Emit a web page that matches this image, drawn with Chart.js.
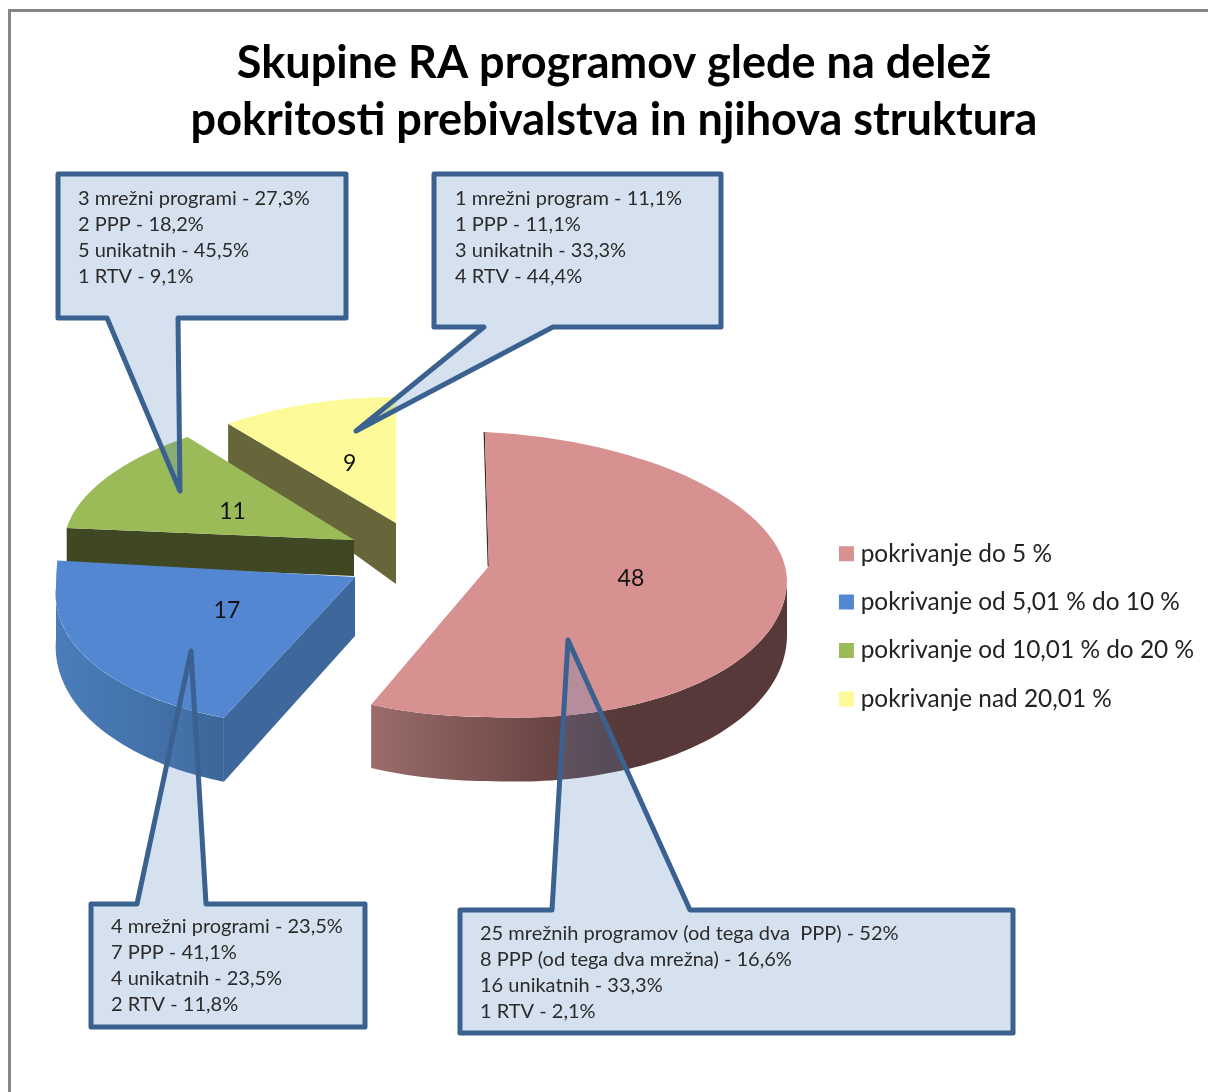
<!DOCTYPE html>
<html><head><meta charset="utf-8">
<style>html,body{margin:0;padding:0;background:#fff}canvas{display:block}</style>
<script src="https://cdn.jsdelivr.net/npm/chart.js@4"></script>
</head><body>
<div style="width:1208px;height:1092px"><canvas id="c" width="1208" height="1092"></canvas></div>
<script>
const titleLines = ['Skupine RA programov glede na delež', 'pokritosti prebivalstva in njihova struktura'];
const categories = ['pokrivanje do 5 %', 'pokrivanje od 5,01 % do 10 %', 'pokrivanje od 10,01 % do 20 %', 'pokrivanje nad 20,01 %'];
const values = [48, 17, 11, 9];
const colors = ['#D79190', '#5387D1', '#9BBB59', '#FDFB99'];
const noteRed = ['25 mrežnih programov (od tega dva  PPP) - 52%', '8 PPP (od tega dva mrežna) - 16,6%', '16 unikatnih - 33,3%', '1 RTV - 2,1%'];
const noteBlue = ['4 mrežni programi - 23,5%', '7 PPP - 41,1%', '4 unikatnih - 23,5%', '2 RTV - 11,8%'];
const noteGreen = ['3 mrežni programi - 27,3%', '2 PPP - 18,2%', '5 unikatnih - 45,5%', '1 RTV - 9,1%'];
const noteYellow = ['1 mrežni program - 11,1%', '1 PPP - 11,1%', '3 unikatnih - 33,3%', '4 RTV - 44,4%'];

/* Exploded, tilted projection of each slice (order of categories) */
const views = [
  {cx:489, cy:566, rx:298, ryB:134, ryF:151, skB:4, skF:0, shL:0, shR:14, dSide:55, dFront:64, dTip:0, wall:null, sliver:'#3b2a2a', lab:[-4,-10],
   rim:[[371,'#9A6C6B'],[540,'#6C4745'],[620,'#573939'],[790,'#573939']]},
  {cx:355, cy:577, rx:299, ryB:287, ryF:149, skB:0, skF:-14, shL:10, shR:0, dSide:52, dFront:65, dTip:59, wall:'#3E689B', sliver:null, lab:[4,-9],
   rim:[[56,'#4A7DBA'],[140,'#4473AC'],[225,'#3C6698']]},
  {cx:354, cy:540, rx:290, ryB:131, ryF:131, skB:-16, skF:0, shL:0, shR:0, dSide:36, dFront:36, dTip:36, wall:'#3F4822', sliver:null, lab:[2,3], rim:null},
  {cx:396, cy:523, rx:272, ryB:126, ryF:126, skB:0, skF:0, shL:0, shR:0, dSide:39, dFront:39, dTip:61, wall:'#66663A', sliver:null, lab:[-2,0], rim:null}
];
const drawOrder = [3, 2, 1, 0];
const callouts = [
  {lines:noteGreen,  box:[58,174,346,318],  tail:[[107,318],[180,491],[178,318]], text:[78,199]},
  {lines:noteYellow, box:[434,174,721,327], tail:[[484,327],[356,431],[553,327]], text:[455,199]},
  {lines:noteBlue,   box:[91,904,365,1027], tail:[[137,904],[191,651],[206,904]], text:[111,927]},
  {lines:noteRed,    box:[460,910,1013,1033],tail:[[552,910],[568,640],[690,910]], text:[480,934]}
];
const FONT = 'Lato, Carlito, sans-serif';
const noteFont = '20px ' + FONT;
const valueFont = '23px ' + FONT;

function project(v, u, w) {          // u,w: slice-space offsets in radius units
  const x = v.cx + v.rx * u + (w < 0 ? v.skB : v.skF) * w;
  const y = v.cy + (w < 0 ? v.ryB : v.ryF) * w + (u < 0 ? -v.shL * u : v.shR * u);
  return [x, y];
}
function pt(v, t) { return project(v, Math.sin(t), -Math.cos(t)); }
function depthAt(v, t) {
  return v.dSide + (v.dFront - v.dSide) * Math.max(0, -Math.cos(t));
}
function drawSlice(ctx, chart, el, v) {
  const R = el.outerRadius;
  const t0 = el.startAngle + Math.PI / 2, t1 = el.endAngle + Math.PI / 2;
  if (v.wall) {
    const c = pt(v, t0), d = depthAt(v, t0);
    ctx.fillStyle = v.wall;
    ctx.beginPath();
    ctx.moveTo(v.cx, v.cy); ctx.lineTo(c[0], c[1]); ctx.lineTo(c[0], c[1] + d); ctx.lineTo(v.cx, v.cy + v.dTip);
    ctx.closePath(); ctx.fill();
  }
  const a = Math.max(t0, Math.PI / 2), b = Math.min(t1, Math.PI * 1.5);
  if (v.rim && b > a) {
    const n = 80, top = [], bot = [];
    for (let i = 0; i <= n; i++) {
      const t = a + (b - a) * i / n, p = pt(v, t);
      top.push(p); bot.push([p[0], p[1] + depthAt(v, t)]);
    }
    const x0 = v.rim[0][0], x1 = v.rim[v.rim.length - 1][0];
    const g = ctx.createLinearGradient(x0, 0, x1, 0);
    v.rim.forEach(s => g.addColorStop((s[0] - x0) / (x1 - x0), s[1]));
    ctx.fillStyle = g;
    ctx.beginPath();
    top.forEach((p, i) => i ? ctx.lineTo(p[0], p[1]) : ctx.moveTo(p[0], p[1]));
    bot.reverse().forEach(p => ctx.lineTo(p[0], p[1]));
    ctx.closePath(); ctx.fill();
  }
  if (v.sliver) {
    const c = pt(v, t0);
    ctx.strokeStyle = v.sliver; ctx.lineWidth = 1.2;
    ctx.beginPath(); ctx.moveTo(v.cx - 0.8, v.cy); ctx.lineTo(c[0] - 0.8, c[1]); ctx.stroke();
  }
  // top face: the library's arc element, drawn quadrant by quadrant through the projection
  const pad = 2, big = R * 1.2;
  [[-1, -1], [1, -1], [1, 1], [-1, 1]].forEach(q => {
    const sx = q[0], sy = q[1];
    const ry = sy < 0 ? v.ryB : v.ryF, sk = sy < 0 ? v.skB : v.skF, sh = sx < 0 ? -v.shL : v.shR;
    const A = v.rx / R, B = sh / R, C = sk / R, D = ry / R;
    ctx.save();
    ctx.transform(A, B, C, D, v.cx - A * el.x - C * el.y, v.cy - B * el.x - D * el.y);
    ctx.beginPath();
    ctx.rect(sx < 0 ? el.x - big : el.x - pad, sy < 0 ? el.y - big : el.y - pad, big + pad, big + pad);
    ctx.clip();
    el.draw(ctx);
    ctx.restore();
  });
}
const pie3d = {
  id: 'pie3d',
  beforeDraw(chart) {
    const ctx = chart.ctx;
    ctx.save();
    ctx.strokeStyle = '#868686'; ctx.lineWidth = 3;
    ctx.beginPath(); ctx.moveTo(9.5, 1092); ctx.lineTo(9.5, 10.5); ctx.lineTo(1208, 10.5); ctx.stroke();
    ctx.restore();
  },
  beforeDatasetDraw(chart, args) {
    const ctx = chart.ctx, meta = args.meta;
    ctx.save();
    drawOrder.forEach(i => drawSlice(ctx, chart, meta.data[i], views[i]));
    ctx.fillStyle = '#111'; ctx.font = valueFont; ctx.textAlign = 'center'; ctx.textBaseline = 'middle';
    values.forEach((val, i) => {
      const el = meta.data[i], c = el.getCenterPoint(), v = views[i], R = el.outerRadius;
      const p = project(v, (c.x - el.x) / R, (c.y - el.y) / R);
      ctx.fillText(String(val), p[0] + v.lab[0], p[1] + v.lab[1]);
    });
    callouts.forEach(k => {
      const [l, t, r, b] = k.box, tail = k.tail;
      ctx.beginPath();
      ctx.moveTo(l, t);
      if (tail[0][1] === t) { tail.forEach(p => ctx.lineTo(p[0], p[1])); }
      ctx.lineTo(r, t); ctx.lineTo(r, b);
      if (tail[0][1] === b) { [...tail].reverse().forEach(p => ctx.lineTo(p[0], p[1])); }
      ctx.lineTo(l, b); ctx.closePath();
      ctx.fillStyle = 'rgba(79,129,189,0.24)'; ctx.fill();
      ctx.strokeStyle = '#3A6190'; ctx.lineWidth = 5; ctx.lineJoin = 'round'; ctx.stroke();
      ctx.fillStyle = '#2b2b2b'; ctx.font = noteFont; ctx.textAlign = 'left'; ctx.textBaseline = 'middle';
      k.lines.forEach((s, i) => ctx.fillText(s, k.text[0], k.text[1] + i * 26));
    });
    ctx.restore();
    return false;
  }
};
new Chart(document.getElementById('c'), {
  type: 'pie',
  data: { labels: categories, datasets: [{ data: values, backgroundColor: colors, borderWidth: 0 }] },
  plugins: [pie3d],
  options: {
    responsive: false, animation: false, events: [],
    layout: { padding: { left: 24, right: 4, top: 0, bottom: 0 } },
    plugins: {
      tooltip: { enabled: false },
      title: { display: true, text: titleLines, color: '#000',
        font: { family: FONT, size: 45, weight: 'bold', lineHeight: 1.27 },
        padding: { top: 35, bottom: 8 } },
      legend: { position: 'right', align: 'center',
        title: { display: true, text: ' ', font: { family: FONT, size: 23 }, padding: { top: 0, bottom: 133 } },
        labels: {
          boxWidth: 4, boxHeight: 4, padding: 24, color: '#222',
          font: { family: FONT, size: 24.4 },
          generateLabels(chart) {
            return Chart.overrides.pie.plugins.legend.labels.generateLabels(chart).map(o =>
              Object.assign(o, { lineWidth: 11, strokeStyle: o.fillStyle }));
          } } }
    }
  }
});
</script>
</body></html>
